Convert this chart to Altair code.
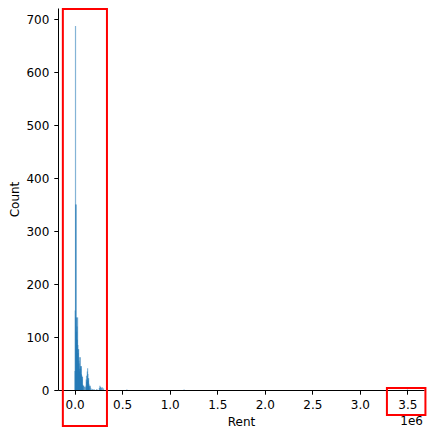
import altair as alt
import pandas as pd

# Histogram of Rent (bin width ~2700), counts
bin_width = 2700
bin_start = [2550, 5250, 7950, 10650, 13350, 16050, 18750, 21450, 24150, 26850,
             29550, 32250, 34950, 37650, 40350, 43050, 45750, 48450, 51150, 53850,
             56550, 59250, 61950, 64650, 67350, 70050, 72750, 75450, 78150, 80850,
             83550, 86250, 88950, 94350, 102450, 110550, 118650, 121350, 124050, 126750,
             129450, 132150, 134850, 137550, 140250, 142950, 145650, 148350, 151050, 153750,
             159150, 164550, 172650, 186150, 202350, 232050, 259050, 264450, 269850, 275250,
             280650, 291450, 302250, 340050, 548000, 1150000, 3500000]
bin_count = [36, 150, 687, 350, 350, 137, 110, 137, 120, 95,
             137, 85, 70, 77, 77, 55, 50, 40, 35, 62,
             62, 45, 40, 45, 30, 45, 28, 20, 25, 25,
             10, 8, 8, 8, 6, 5, 8, 20, 27, 15,
             18, 35, 41, 30, 22, 18, 22, 12, 8, 8,
             5, 8, 3, 2, 2, 2, 4, 8, 6, 5,
             4, 5, 3, 2, 1, 1, 1]

x_ticks = [0, 500000, 1000000, 1500000, 2000000, 2500000, 3000000, 3500000]
y_ticks = [0, 100, 200, 300, 400, 500, 600, 700]
offset_label = ["1e6"]

# annotation boxes (data coordinates)
box_x1 = [-124000, 3285000]
box_x2 = [340000, 3690000]
box_y1 = [719, 3.8]
box_y2 = [-68, -47]

df = pd.DataFrame({"start": bin_start, "count": bin_count})
df["mid"] = df["start"] + bin_width / 2
boxes = pd.DataFrame({"x1": box_x1, "x2": box_x2, "y1": box_y1, "y2": box_y2})
offset_df = pd.DataFrame({"t": offset_label})

x_scale = alt.Scale(domain=[-175000, 3675000], nice=False, zero=False, padding=0)
y_scale = alt.Scale(domain=[0, 721], nice=False, zero=False, padding=0)

axis_common = dict(
    grid=False,
    domainColor="black",
    domainWidth=1,
    tickColor="black",
    tickWidth=1,
    tickSize=4.2,
    labelFont="DejaVu Sans",
    labelFontSize=12,
    labelColor="black",
    labelPadding=5,
    titleFont="DejaVu Sans",
    titleFontSize=12,
    titleFontWeight="normal",
    titleColor="black",
)

bars = alt.Chart(df).mark_bar(
    color="#1f77b4", opacity=0.55, size=1.2
).encode(
    x=alt.X("mid:Q", scale=x_scale, title="Rent",
            axis=alt.Axis(values=x_ticks, labelExpr="format(datum.value / 1000000, '.1f')",
                          titlePadding=6, labelFlush=False, **axis_common)),
    y=alt.Y("count:Q", scale=y_scale, title="Count",
            axis=alt.Axis(values=y_ticks, titlePadding=4.5, **axis_common)),
)

rects = alt.Chart(boxes).mark_rect(
    fillOpacity=0, stroke="red", strokeWidth=2, clip=False
).encode(
    x=alt.X("x1:Q", scale=x_scale, title="Rent"),
    x2="x2:Q",
    y=alt.Y("y1:Q", scale=y_scale, title="Count"),
    y2="y2:Q",
)

offset = alt.Chart(offset_df).mark_text(
    align="right", baseline="middle", font="DejaVu Sans", fontSize=12, color="black"
).encode(
    x=alt.value(365),
    y=alt.value(413),
    text="t:N",
)

chart = alt.layer(bars, rects, offset).properties(
    width=366, height=382,
    padding={"left": 0, "top": 0, "right": 0, "bottom": 0},
).configure_view(stroke=None)

chart.save("out.html", embed_options={"renderer": "svg", "actions": False})
